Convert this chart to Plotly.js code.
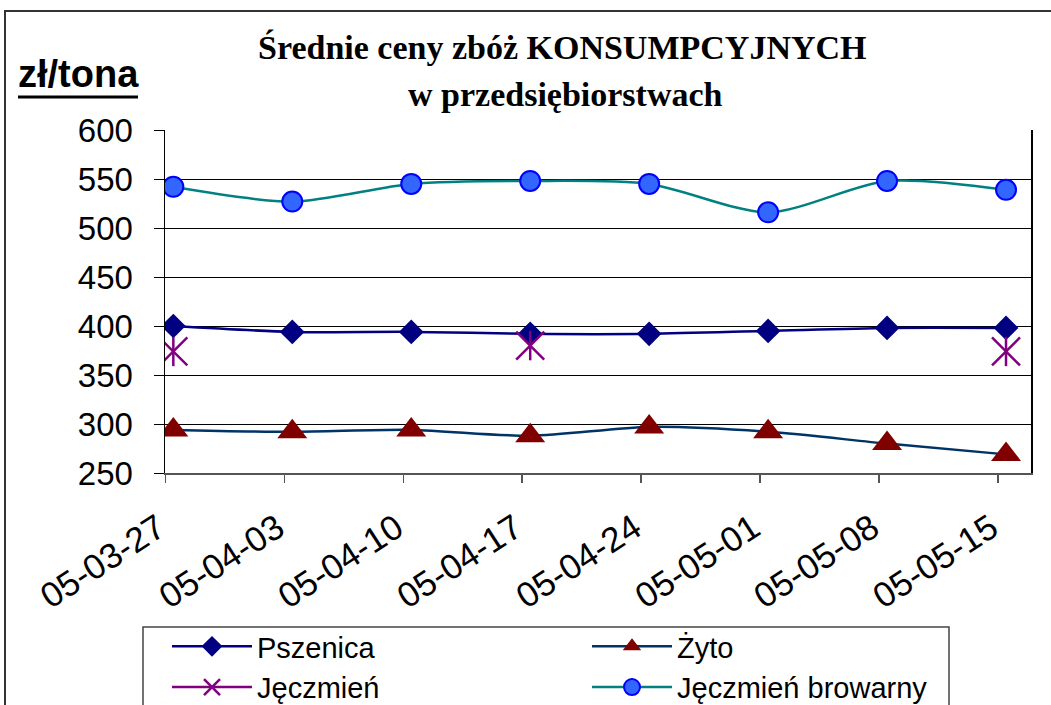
<!DOCTYPE html>
<html>
<head>
<meta charset="utf-8">
<script src="https://cdn.plot.ly/plotly-3.0.1.min.js"></script>
<style>html,body{margin:0;padding:0;background:#fff;}#chart{width:1051px;height:705px;}</style>
</head>
<body>
<div id="chart"></div>
<script>
const dates = ["05-03-27","05-04-03","05-04-10","05-04-17","05-04-24","05-05-01","05-05-08","05-05-15"];
const pszenica = [400, 394, 394, 392, 392, 395, 398, 398];
const zyto = [294, 292, 294, 288, 297, 292, 280, 269];
const jeczmien = [374, null, null, 380, null, null, null, 374];
const browarny = [542, 527, 545, 548, 545, 516, 548, 539];
const yTicks = [250, 300, 350, 400, 450, 500, 550, 600];

const idx = dates.map((d, i) => i);
const tickPos = idx.map(i => i - 0.067);

// pixel -> paper helpers (plot area 165..1031 x, 130..473 y)
const L = 165, R = 1031, T = 130, B = 473;
const px = v => (v - L) / (R - L);
const py = v => (B - v) / (B - T);

const traces = [
  {name: "Pszenica", x: idx, y: pszenica, type: "scatter", mode: "lines+markers",
   line: {color: "#000080", width: 2.5, shape: "spline", smoothing: 0.8},
   marker: {symbol: "diamond", size: 19, color: "#000080"}},
  {name: "Żyto", x: idx, y: zyto, type: "scatter", mode: "lines+markers",
   line: {color: "#003366", width: 2.5, shape: "spline", smoothing: 0.8},
   marker: {symbol: "triangle-up", size: 26, color: "#800000"}},
  {name: "Jęczmień", x: idx, y: jeczmien, type: "scatter", mode: "lines+markers",
   line: {color: "#800080", width: 2.5},
   marker: {symbol: "x-thin-open", size: 28, color: "#800080", line: {color: "#800080", width: 2.5}}},
  {name: "Jęczmień browarny", x: idx, y: browarny, type: "scatter", mode: "lines+markers",
   line: {color: "#008080", width: 2.5, shape: "spline", smoothing: 0.8},
   marker: {symbol: "circle", size: 20, color: "#3366FF", line: {color: "#0000FF", width: 2}}},
  {name: "Jęczmień", x: idx, y: jeczmien, type: "scatter", mode: "markers", showlegend: false,
   marker: {symbol: "line-ns-open", size: 21, color: "#800080", line: {color: "#800080", width: 2.5}}}
];

const layout = {
  width: 1051, height: 705,
  margin: {l: L, r: 1051 - R, t: T, b: 705 - B, autoexpand: false},
  paper_bgcolor: "#ffffff", plot_bgcolor: "#ffffff",
  showlegend: true,
  font: {family: "Liberation Sans, Arial, sans-serif", color: "#000"},
  xaxis: {
    type: "linear", range: [-0.07, 7.21], automargin: false,
    tickmode: "array", tickvals: tickPos, ticktext: dates,
    tickangle: -33, tickfont: {size: 35, family: "Liberation Sans, Arial, sans-serif"},
    ticks: "outside", ticklen: 8, tickcolor: "#555", tickwidth: 1.5,
    ticklabelstandoff: 11, ticklabelshift: -7,
    showgrid: false, zeroline: false,
    showline: true, linecolor: "#555", linewidth: 2
  },
  yaxis: {
    range: [250, 600], automargin: false,
    tickmode: "array", tickvals: yTicks, ticktext: yTicks.map(String),
    tickfont: {size: 33, family: "Liberation Sans, Arial, sans-serif"},
    ticks: "outside", ticklen: 10, tickcolor: "#000", tickwidth: 1,
    ticklabelstandoff: 14,
    showgrid: true, gridcolor: "#000", gridwidth: 1,
    zeroline: false, showline: true, linecolor: "#000", linewidth: 1.5, mirror: true
  },
  legend: {
    orientation: "h", x: px(167), y: py(621), xanchor: "left", yanchor: "top",
    xref: "paper", yref: "paper",
    entrywidth: 325, entrywidthmode: "pixels", itemwidth: 80,
    font: {size: 29, family: "Liberation Sans, Arial, sans-serif"},
    bgcolor: "rgba(0,0,0,0)", borderwidth: 0, traceorder: "normal", tracegroupgap: 0
  },
  annotations: [
    {text: "<b>Średnie ceny zbóż KONSUMPCYJNYCH</b>", xref: "paper", yref: "paper",
     x: px(562), y: py(47), showarrow: false, xanchor: "center", yanchor: "middle",
     font: {size: 34, family: "Liberation Serif, Times New Roman, serif"}},
    {text: "<b>w przedsiębiorstwach</b>", xref: "paper", yref: "paper",
     x: px(565), y: py(94), showarrow: false, xanchor: "center", yanchor: "middle",
     font: {size: 34, family: "Liberation Serif, Times New Roman, serif"}},
    {text: "<b>zł/tona</b>", xref: "paper", yref: "paper",
     x: px(78), y: py(74), showarrow: false, xanchor: "center", yanchor: "middle",
     font: {size: 38, family: "Liberation Sans, Arial, sans-serif"}}
  ],
  shapes: [
    {type: "rect", xref: "paper", yref: "paper", x0: px(5), x1: px(1060), y0: py(11), y1: py(730),
     line: {color: "#333", width: 2}, fillcolor: "rgba(0,0,0,0)", layer: "below"},
    {type: "rect", xref: "paper", yref: "paper", x0: px(143), x1: px(949), y0: py(627), y1: py(730),
     line: {color: "#444", width: 1.5}, fillcolor: "rgba(0,0,0,0)", layer: "below"},
    {type: "line", xref: "paper", yref: "paper", x0: px(18), x1: px(138), y0: py(97), y1: py(97),
     line: {color: "#000", width: 3}}
  ]
};

Plotly.newPlot("chart", traces, layout, {displayModeBar: false, staticPlot: true});
</script>
</body>
</html>
